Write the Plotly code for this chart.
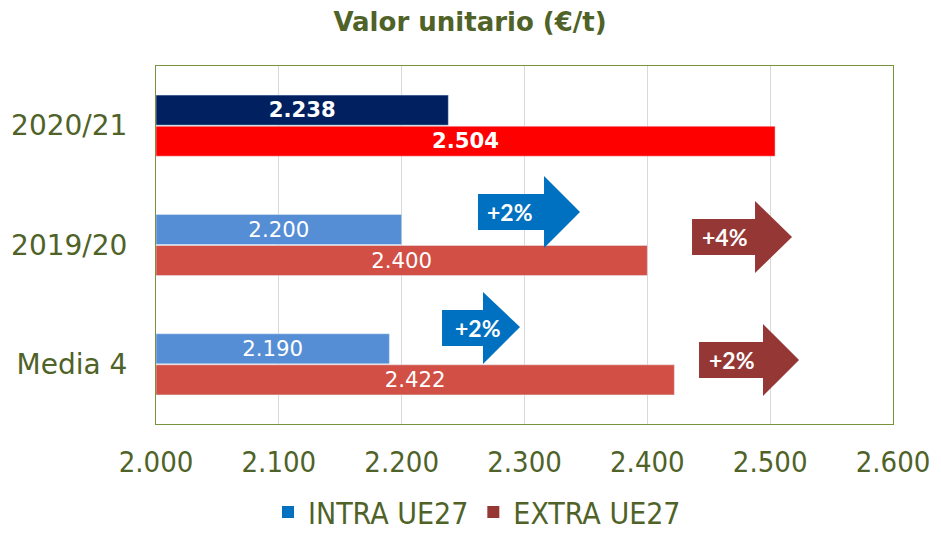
import plotly.graph_objects as go

categories = ["2020/21", "2019/20", "Media 4"]
intra_values = [2238, 2200, 2190]
extra_values = [2504, 2400, 2422]
intra_colors = ["#002060", "#558ED5", "#558ED5"]
extra_colors = ["#FF0000", "#D24F45", "#D24F45"]
series_names = ["INTRA UE27", "EXTRA UE27"]
legend_colors = ["#0070C0", "#953735"]
x_ticks = [2000, 2100, 2200, 2300, 2400, 2500, 2600]
axis_min = 2000
title = "Valor unitario (€/t)"

OLIVE = "#4F6228"
OFF = 8  # page body margin
W, H = 941 - OFF, 533 - OFF
PL, PR, PT, PB = 156, 893, 66, 424  # plot area in window pixels
L, R, T, B = PL - OFF, 941 - PR, PT - OFF, 533 - PB
PW, PH = PR - PL, PB - PT
COND = "DejaVu Sans Condensed, Liberation Sans Narrow, DejaVu Sans"


def fmt(v):
    return f"{v:,.0f}".replace(",", ".")


def labels(vals):
    return [f"<b>{fmt(v)}</b>" if i == 0 else fmt(v) for i, v in enumerate(vals)]


fig = go.Figure()
for vals, cols, name in [(intra_values, intra_colors, series_names[0]),
                         (extra_values, extra_colors, series_names[1])]:
    fig.add_trace(go.Bar(
        y=categories, x=[v - axis_min for v in vals], base=axis_min,
        orientation="h", name=name,
        marker=dict(color=cols), text=labels(vals),
        textposition="inside", insidetextanchor="middle", textangle=0,
        textfont=dict(color="white", size=[22, 23, 23], family="DejaVu Sans"),
        showlegend=False,
    ))
for name, col in zip(series_names, legend_colors):
    fig.add_trace(go.Scatter(
        x=[None], y=[None], mode="markers", name=name,
        marker=dict(symbol="square", size=12, color=col),
    ))


def px_to_paper(px, py):
    return (px - PL) / PW, (PB - py) / PH


def arrow(x0, x1, xt, yb0, yb1, yh0, yh1, yt, color, label, tx=None):
    pts = [(x0, yb0), (x1, yb0), (x1, yh0), (xt, yt), (x1, yh1), (x1, yb1), (x0, yb1)]
    pp = [px_to_paper(*p) for p in pts]
    path = "M " + " L ".join(f"{a:.4f},{b:.4f}" for a, b in pp) + " Z"
    fig.add_shape(type="path", path=path, xref="paper", yref="paper",
                  fillcolor=color, line=dict(width=0), layer="above")
    cx, cy = px_to_paper(tx if tx is not None else (x0 + x1) / 2, (yb0 + yb1) / 2)
    fig.add_annotation(x=cx, y=cy, xref="paper", yref="paper", text=f"<b>{label}</b>",
                       xanchor="center", yanchor="middle",
                       showarrow=False, font=dict(color="white", size=23, family="Lato"))


arrow(478, 544, 580, 194, 230, 176, 248, 212, "#0070C0", "+2%", tx=510)
arrow(692, 755, 792, 219, 255, 201, 273, 237, "#953735", "+4%", tx=725)
arrow(442, 483, 520, 310, 346, 292, 364, 327, "#0070C0", "+2%", tx=478)
arrow(699, 763, 799, 342, 378, 324, 396, 360, "#953735", "+2%", tx=732)

lx, ly = px_to_paper(477, 512)

fig.update_layout(
    width=W, height=H, margin=dict(l=L, r=R, t=T, b=B, autoexpand=False),
    paper_bgcolor="white", plot_bgcolor="white",
    barmode="group", bargap=0.48, bargroupgap=0.03,
    separators=",.",
    title=dict(text=f"<b>{title}</b>", x=(470 - OFF) / W, xanchor="center",
               y=1 - (22 - OFF) / H, yanchor="middle",
               font=dict(family="DejaVu Sans", size=26, color=OLIVE)),
    xaxis=dict(range=[2000, 2600], tickvals=x_ticks, tickformat=",.0f",
               showgrid=True, gridcolor="#D9D9D9", gridwidth=1,
               showline=True, linecolor="#77933C", mirror=True, linewidth=1,
               zeroline=False, ticks="", ticklabelstandoff=12, automargin=False,
               tickfont=dict(family=COND, size=29, color=OLIVE)),
    yaxis=dict(autorange="reversed", showline=True, linecolor="#77933C", mirror=True,
               linewidth=1, showgrid=False, ticks="", ticklabelstandoff=22, automargin=False,
               tickfont=dict(family="DejaVu Sans", size=28, color=OLIVE)),
    legend=dict(orientation="h", x=lx, xanchor="center", y=ly, yanchor="middle",
                font=dict(family=COND, size=30, color=OLIVE),
                itemwidth=30, tracegroupgap=0),
    showlegend=True,
)

fig.write_html("out.html")
